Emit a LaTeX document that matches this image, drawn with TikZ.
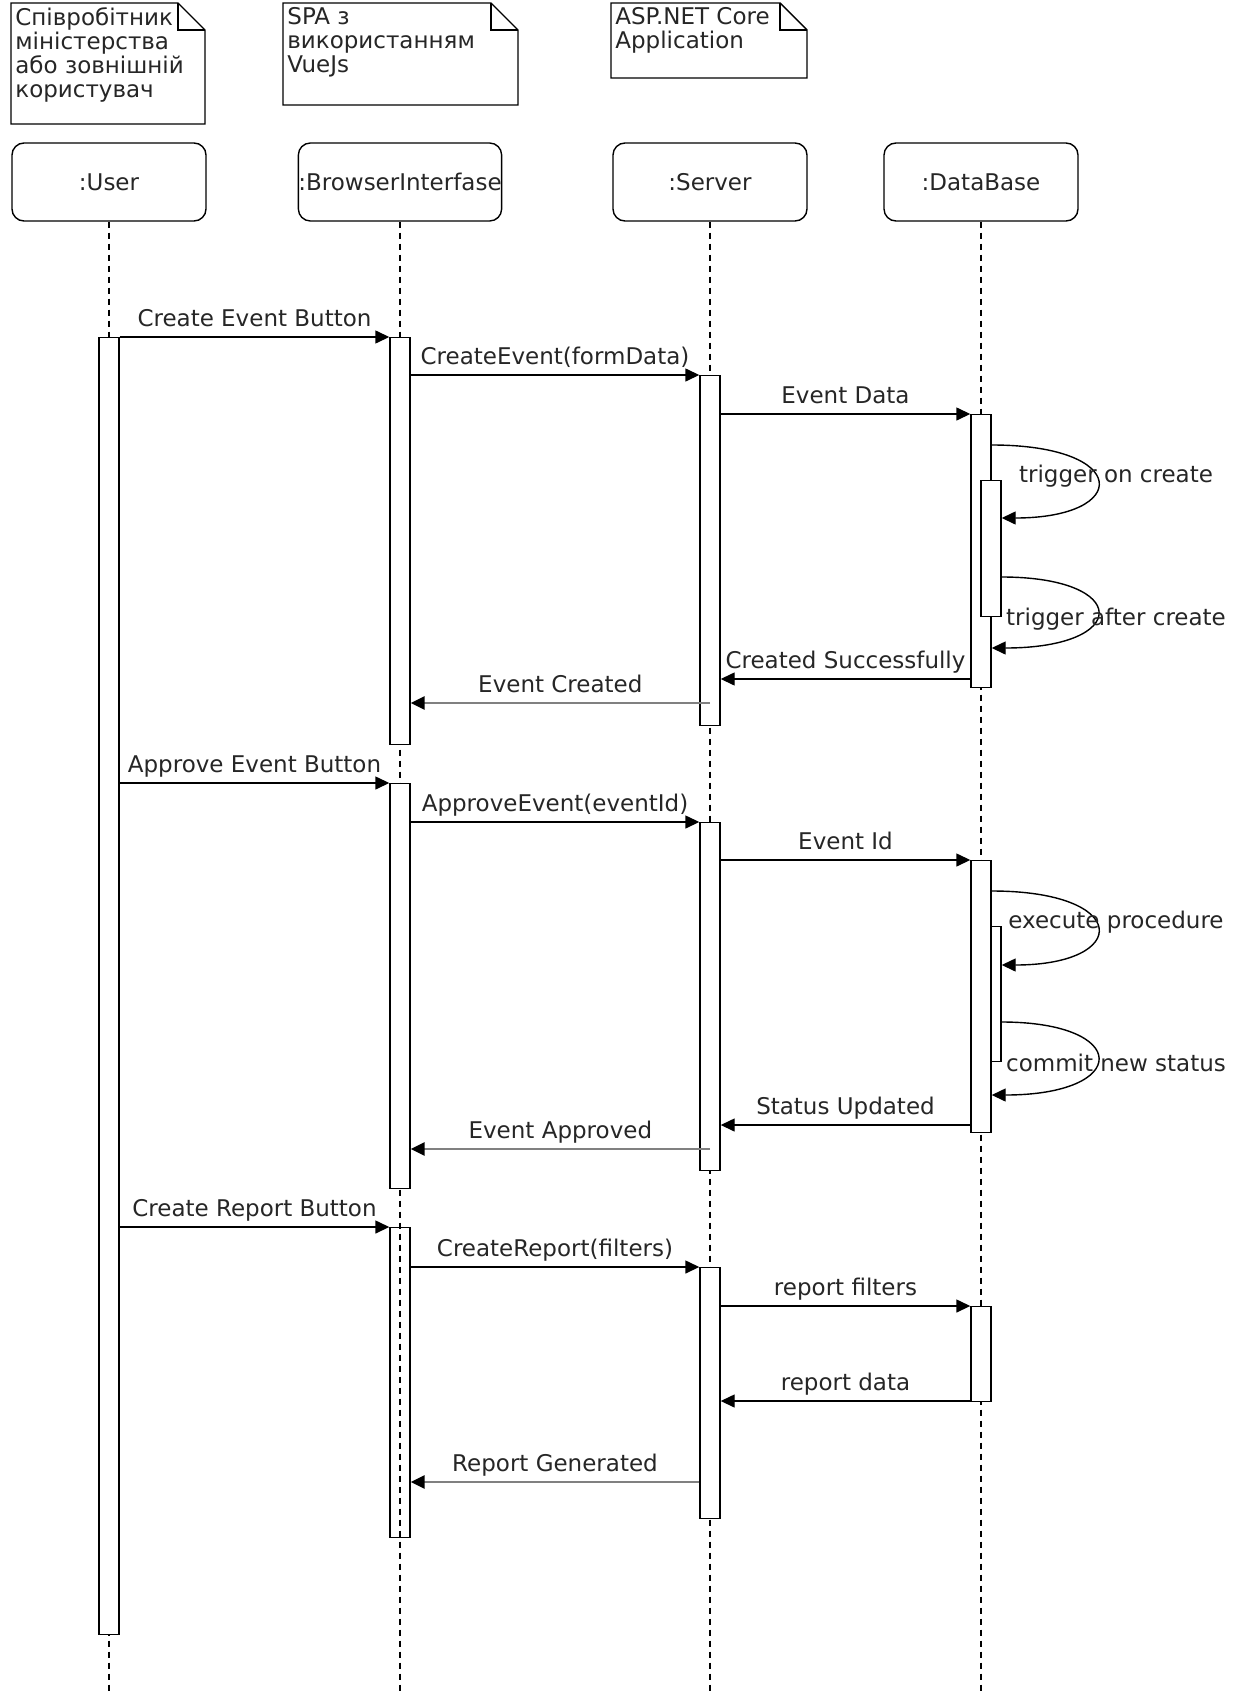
\documentclass[tikz,border=0pt]{standalone}
\usepackage{fontspec}
\setmainfont{DejaVu Sans}
\usetikzlibrary{arrows.meta}

\begin{document}
\begin{tikzpicture}[
  x=0.5pt, y=-0.5pt,
  every node/.style={font=\fontsize{11.5}{12}\selectfont, text=black!85},
  head/.style={rectangle, rounded corners=6pt, draw, line width=0.7pt,
               minimum width=97pt, minimum height=39pt, inner sep=0pt},
  act/.style={rectangle, draw, fill=white, line width=0.7pt,
              minimum width=10pt, inner sep=0pt, anchor=north},
  notetxt/.style={anchor=north west, align=left, inner sep=2pt},
  notebox/.style={line width=0.7pt},
  life/.style={dash pattern=on 3pt off 2.5pt, line width=0.6pt},
  msg/.style={-{Triangle[length=7pt,width=6.5pt]}, line width=0.7pt},
  ret/.style={-{Triangle[length=7pt,width=6.5pt,color=black,fill=black]},
              line width=1.4pt, draw=black!50},
  lbl/.style={anchor=base, yshift=5.5pt, inner sep=0pt},
  selfl/.style={anchor=base, inner sep=0pt}
]
\useasboundingbox (0,0) rectangle (1240,1691);

% Notes
\foreach \xa/\xb/\yb in {11/205/124, 283/518/105, 611/807/78} {
  \draw[notebox] (\xa,3) -- (\xb-27,3) -- (\xb,30) -- (\xb,\yb) -- (\xa,\yb) -- cycle;
  \draw[notebox] (\xb-27,3) -- (\xb-27,30) -- (\xb,30);
}
\node[notetxt] (nuser)    at (11,3)  {Співробітник\\міністерства\\або зовнішній\\користувач};
\node[notetxt] (nbrowser) at (283,3) {SPA з\\використанням\\VueJs};
\node[notetxt] (nserver)  at (611,3) {ASP.NET Core\\Application};

% Lifelines
\node[head] (user)    at (109,182) {:User};
\node[head] (browser) at (400,182) {:BrowserInterfase};
\node[head] (server)  at (710,182) {:Server};
\node[head] (db)      at (981,182) {:DataBase};

\foreach \n in {user,browser,server,db}
  \draw[life] (\n) -- (\n |- 0,1691);

% Activations
\node[act, minimum height=67.5pt] (dn2) at (991,926) {};
\node[act, minimum height=648.5pt] (uact) at (109,337) {};
\node[act, minimum height=203.5pt] (bact1) at (400,337) {};
\node[act, minimum height=175pt] (sact1) at (710,375) {};
\node[act, minimum height=136.5pt] (dact1) at (981,414) {};
\node[act, minimum height=68pt] (dn1) at (991,480) {};
\node[act, minimum height=202.5pt] (bact2) at (400,783) {};
\node[act, minimum height=174pt] (sact2) at (710,822) {};
\node[act, minimum height=136pt] (dact2) at (981,860) {};
\node[act, fill=none, minimum height=155pt] (bact3) at (400,1227) {};
\node[act, minimum height=125.5pt] (sact3) at (710,1267) {};
\node[act, minimum height=47.5pt] (dact3) at (981,1306) {};

% Create event
\draw[msg] (uact.east |- 0,337) -- node[lbl] (m1) {Create Event Button} (bact1.west |- 0,337);
\draw[msg] (bact1.east |- 0,375) -- node[lbl] (m2) {CreateEvent(formData)} (sact1.west |- 0,375);
\draw[msg] (sact1.east |- 0,414) -- node[lbl] (m3) {Event Data} (dact1.west |- 0,414);
\draw[msg] (dact1.east |- 0,445) .. controls (1131,445) and (1131,518) .. (dn1.east |- 0,518);
\draw[msg] (dn1.east |- 0,577) .. controls (1131,577) and (1131,648) .. (dact1.east |- 0,648);
\node[selfl] (s1) at (1116,482) {trigger on create};
\node[selfl] (s2) at (1116,625) {trigger after create};
\draw[msg] (dact1.west |- 0,679) -- node[lbl] (m4) {Created Successfully} (sact1.east |- 0,679);
\draw[ret] (sact1 |- 0,703) -- node[lbl] (m5) {Event Created} (bact1.east |- 0,703);

% Approve event
\draw[msg] (uact.east |- 0,783) -- node[lbl] (m6) {Approve Event Button} (bact2.west |- 0,783);
\draw[msg] (bact2.east |- 0,822) -- node[lbl] (m7) {ApproveEvent(eventId)} (sact2.west |- 0,822);
\draw[msg] (sact2.east |- 0,860) -- node[lbl] (m8) {Event Id} (dact2.west |- 0,860);
\draw[msg] (dact2.east |- 0,891) .. controls (1131,891) and (1131,965) .. (dn2.east |- 0,965);
\draw[msg] (dn2.east |- 0,1022) .. controls (1131,1022) and (1131,1095) .. (dact2.east |- 0,1095);
\node[selfl] (s3) at (1116,928) {execute procedure};
\node[selfl] (s4) at (1116,1071) {commit new status};
\draw[msg] (dact2.west |- 0,1125) -- node[lbl] (m9) {Status Updated} (sact2.east |- 0,1125);
\draw[ret] (sact2 |- 0,1149) -- node[lbl] (m10) {Event Approved} (bact2.east |- 0,1149);

% Create report
\draw[msg] (uact.east |- 0,1227) -- node[lbl] (m11) {Create Report Button} (bact3.west |- 0,1227);
\draw[msg] (bact3.east |- 0,1267) -- node[lbl] (m12) {CreateReport(filters)} (sact3.west |- 0,1267);
\draw[msg] (sact3.east |- 0,1306) -- node[lbl] (m13) {report filters} (dact3.west |- 0,1306);
\draw[msg] (dact3.west |- 0,1401) -- node[lbl] (m14) {report data} (sact3.east |- 0,1401);
\draw[ret] (sact3.west |- 0,1482) -- node[lbl] (m15) {Report Generated} (bact3.east |- 0,1482);

\end{tikzpicture}
\end{document}
